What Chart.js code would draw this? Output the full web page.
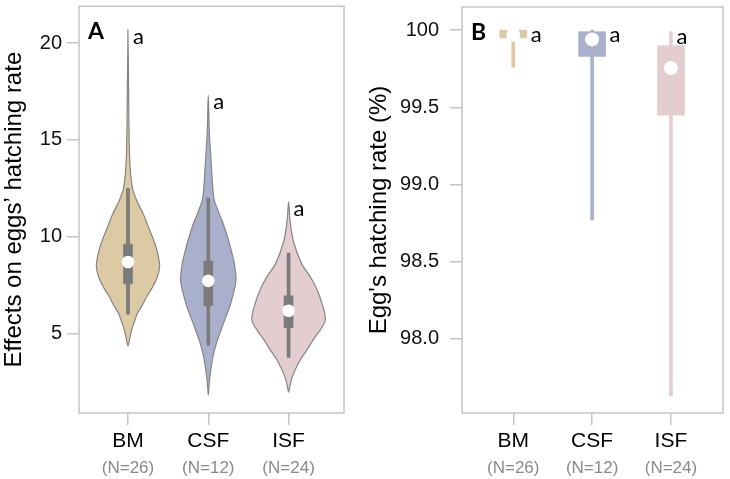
<!DOCTYPE html>
<html>
<head>
<meta charset="utf-8">
<script src="https://cdn.jsdelivr.net/npm/chart.js@4.4.0/dist/chart.umd.min.js"></script>
<style>
  html, body { margin: 0; padding: 0; background: #fff; }
  #wrap { position: relative; width: 730px; height: 479px; }
  canvas { position: absolute; top: 0; }
  #chartA { left: 0; }
  #chartB { left: 365px; }
</style>
</head>
<body>
<div id="wrap">
  <canvas id="chartA" width="365" height="479"></canvas>
  <canvas id="chartB" width="365" height="479"></canvas>
</div>
<script>
// groups shared by both panels
const groups = ['BM', 'CSF', 'ISF'];
const sampleSizes = [26, 12, 24];
const letters = ['a', 'a', 'a'];
const groupColors = ['#dccaa5', '#aab0cb', '#e4cdd1'];

// Panel A - violin outlines: levels (y) and half widths (in category units)
const bmLevels = [4.35, 4.6, 5.15, 5.56, 6.0, 6.54, 6.85, 7.36, 7.9, 8.5, 9.26, 9.9, 10.55, 11.2, 11.83, 12.5, 13.7, 15.4, 20.7];
const bmWidths = [0, 0.015, 0.044, 0.075, 0.113, 0.188, 0.225, 0.3, 0.363, 0.394, 0.363, 0.313, 0.25, 0.188, 0.113, 0.056, 0.025, 0.013, 0];
const csfLevels = [1.82, 2.74, 3.77, 4.49, 5.15, 5.8, 6.5, 7.7, 8.6, 9.26, 9.93, 10.65, 11.3, 12.0, 13.7, 15.4, 17.3];
const csfWidths = [0, 0.019, 0.056, 0.1, 0.156, 0.213, 0.275, 0.344, 0.325, 0.288, 0.244, 0.188, 0.125, 0.069, 0.038, 0.013, 0];
const isfLevels = [1.97, 2.74, 3.6, 4.13, 4.64, 5.67, 6.6, 7.36, 7.98, 8.6, 9.78, 10.8, 11.8];
const isfWidths = [0, 0.044, 0.138, 0.225, 0.3, 0.456, 0.413, 0.344, 0.263, 0.163, 0.059, 0.019, 0];

// Panel A - inner box plots
const medianA = [8.7, 7.72, 6.18];
const q1A = [7.57, 6.44, 5.3];
const q3A = [9.62, 8.75, 6.95];
const whiskerLowA = [6.0, 4.4, 3.77];
const whiskerHighA = [12.5, 12.0, 9.16];
const ticksA = [5, 10, 15, 20];

// Panel B - box plots of hatching rate (%)
const medianB = [99.97, 99.94, 99.755];
const q1B = [99.95, 99.83, 99.45];
const q3B = [100, 99.99, 99.9];
const minB = [99.76, 98.77, 97.63];
const maxB = [100, 100, 99.99];
const ticksB = [98, 98.5, 99, 99.5, 100];

const FONT = '"Liberation Sans", Arial, sans-serif';
const LETTER_FONT = 'Lato, "Open Sans", sans-serif';
const FRAME = '#c4c4c4';

function violinPoints(pos, levels, widths) {
  const right = levels.map((v, i) => ({ x: pos + widths[i], y: v }));
  const left = levels.map((v, i) => ({ x: pos - widths[i], y: v })).reverse();
  return right.concat(left.slice(1));
}

// frame, N labels, panel letter and significance letters
function makeAnnot(panel, letterPos) {
  return {
    id: 'annot' + panel,
    afterDraw(chart) {
      const { ctx, chartArea: a, scales } = chart;
      ctx.save();
      ctx.strokeStyle = FRAME;
      ctx.lineWidth = 1.5;
      ctx.strokeRect(a.left, a.top, a.right - a.left, a.bottom - a.top);

      ctx.font = '17px ' + FONT;
      ctx.fillStyle = '#8a8a8a';
      ctx.textAlign = 'center';
      ctx.textBaseline = 'middle';
      groups.forEach((g, i) => {
        ctx.fillText('(N=' + sampleSizes[i] + ')', scales.x.getPixelForValue(i + 1), 468);
      });

      ctx.fillStyle = '#000';
      ctx.textAlign = 'left';
      ctx.textBaseline = 'alphabetic';
      ctx.font = 'bold 23px ' + LETTER_FONT;
      ctx.fillText(panel, a.left + 9, a.top + 33);

      ctx.font = '22px ' + LETTER_FONT;
      letters.forEach((l, i) => {
        const p = letterPos(chart, i);
        ctx.fillText(l, p.x, p.y);
      });
      ctx.restore();
    }
  };
}

function yAxis(min, max, ticks, fmt, width, pad, title) {
  return {
    type: 'linear', min: min, max: max,
    afterFit: s => { s.width = width; s.paddingTop = 0; s.paddingBottom = 0; },
    afterBuildTicks: s => { s.ticks = ticks.map(v => ({ value: v })); },
    border: { display: false },
    grid: { drawOnChartArea: false, tickLength: 12, tickColor: FRAME, lineWidth: 1.5 },
    ticks: { padding: pad, color: '#111', font: { family: FONT, size: 20 }, callback: fmt },
    title: { display: true, text: title, color: '#000', padding: 0, font: { family: FONT, size: 24 } }
  };
}

function xAxis(min, max) {
  return {
    type: 'linear', min: min, max: max,
    offset: false,
    afterFit: s => { s.height = 66; s.paddingLeft = 0; s.paddingRight = 0; },
    afterBuildTicks: s => { s.ticks = groups.map((g, i) => ({ value: i + 1 })); },
    border: { display: false },
    grid: { offset: false, drawOnChartArea: false, tickLength: 12, tickColor: FRAME, lineWidth: 1.5 },
    ticks: { padding: 4, color: '#000', maxRotation: 0, font: { family: FONT, size: 21 }, callback: v => groups[v - 1] }
  };
}

const baseOptions = {
  responsive: false,
  animation: false,
  plugins: { legend: { display: false }, tooltip: { enabled: false } }
};

// Panel A: violins
const violinSets = [[bmLevels, bmWidths], [csfLevels, csfWidths], [isfLevels, isfWidths]];
const datasetsA = violinSets.map((s, i) => ({
  type: 'scatter',
  data: violinPoints(i + 1, s[0], s[1]),
  showLine: true,
  fill: 'shape',
  backgroundColor: groupColors[i],
  borderColor: '#858585',
  borderWidth: 1.2,
  pointRadius: 0,
  tension: 0.3,
  order: 3
}));
datasetsA.push({
  type: 'bar',
  data: groups.map((g, i) => ({ x: i + 1, y: [whiskerLowA[i], whiskerHighA[i]] })),
  backgroundColor: '#7b7b7b', barThickness: 3, grouped: false, order: 2
});
datasetsA.push({
  type: 'bar',
  data: groups.map((g, i) => ({ x: i + 1, y: [q1A[i], q3A[i]] })),
  backgroundColor: '#7b7b7b', barThickness: 9, grouped: false, order: 1
});
datasetsA.push({
  type: 'scatter',
  data: medianA.map((m, i) => ({ x: i + 1, y: m })),
  pointRadius: 6.3, pointBackgroundColor: '#fff', pointBorderWidth: 0, order: 0
});

new Chart(document.getElementById('chartA'), {
  type: 'scatter',
  data: { datasets: datasetsA },
  options: {
    ...baseOptions,
    layout: { padding: { left: 0, top: 4, right: 21, bottom: 0 } },
    scales: {
      x: xAxis(0.39, 3.69),
      y: yAxis(0.9, 21.9, ticksA, v => v, 79, 5, 'Effects on eggs\u2019 hatching rate')
    }
  },
  plugins: [makeAnnot('A', (chart, i) => {
    const lv = violinSets[i][0];
    return {
      x: chart.scales.x.getPixelForValue(i + 1) + 5,
      y: chart.scales.y.getPixelForValue(lv[lv.length - 1]) + 14
    };
  })]
});

// Panel B: box plots
const BOX_B = 27, WHISK_B = 3;
new Chart(document.getElementById('chartB'), {
  type: 'scatter',
  data: {
    datasets: [
      {
        type: 'bar',
        data: groups.map((g, i) => ({ x: i + 1, y: [minB[i], maxB[i]] })),
        backgroundColor: groupColors, barThickness: WHISK_B, grouped: false, order: 2
      },
      {
        type: 'bar',
        data: groups.map((g, i) => ({ x: i + 1, y: [q1B[i], q3B[i]] })),
        backgroundColor: groupColors, barThickness: BOX_B, grouped: false, order: 1
      },
      {
        type: 'scatter',
        data: medianB.map((m, i) => ({ x: i + 1, y: m })),
        pointRadius: 7, pointBackgroundColor: '#fff', pointBorderWidth: 0, order: 0
      }
    ]
  },
  options: {
    ...baseOptions,
    layout: { padding: { left: 0, top: 4, right: 3, bottom: 0 } },
    scales: {
      x: xAxis(0.35, 3.66),
      y: yAxis(97.52, 100.15, ticksB, v => (v === 100 ? '100' : v.toFixed(1)), 97, 11, 'Egg\'s hatching rate (%)')
    }
  },
  plugins: [makeAnnot('B', (chart, i) => {
    const half = q3B[i] >= maxB[i] - 0.02 ? BOX_B / 2 : WHISK_B / 2;
    return {
      x: chart.scales.x.getPixelForValue(i + 1) + half + 4,
      y: chart.scales.y.getPixelForValue(maxB[i]) + 12
    };
  })]
});
</script>
</body>
</html>
